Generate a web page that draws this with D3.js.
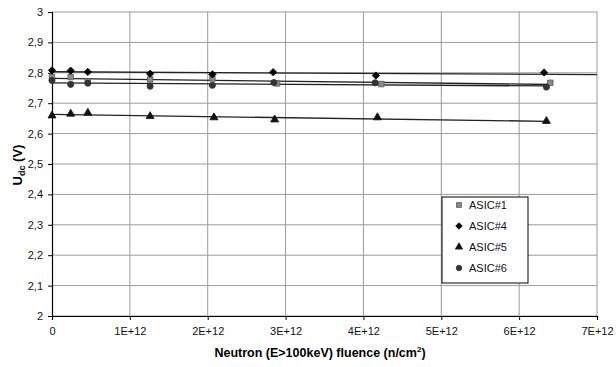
<!DOCTYPE html>
<html>
<head>
<meta charset="utf-8">
<script src="https://cdnjs.cloudflare.com/ajax/libs/d3/7.8.5/d3.min.js"></script>
<style>
    body { margin: 0; background: #fff; }
    svg text { font-family: "Liberation Sans", Arial, sans-serif; }
</style>
</head>
<body>
<svg id="chart" width="616" height="367"></svg>
<script>
// fluence values (n/cm2) and Udc readings per chip
var asic1X = [0, 0.24e12, 0.46e12, 1.26e12, 2.06e12, 2.89e12, 4.23e12, 6.40e12];
var asic1Y = [2.786, 2.786, 2.772, 2.778, 2.781, 2.765, 2.763, 2.767];

var asic4X = [0, 0.24e12, 0.46e12, 1.26e12, 2.06e12, 2.84e12, 4.16e12, 6.32e12];
var asic4Y = [2.808, 2.807, 2.803, 2.797, 2.795, 2.802, 2.791, 2.801];

var asic5X = [0, 0.24e12, 0.46e12, 1.26e12, 2.08e12, 2.86e12, 4.18e12, 6.35e12];
var asic5Y = [2.659, 2.665, 2.668, 2.657, 2.653, 2.646, 2.653, 2.641];

var asic6X = [0, 0.24e12, 0.46e12, 1.26e12, 2.06e12, 2.85e12, 4.15e12, 6.35e12];
var asic6Y = [2.775, 2.762, 2.766, 2.756, 2.759, 2.768, 2.767, 2.753];

var seriesNames = ["ASIC#1", "ASIC#4", "ASIC#5", "ASIC#6"];
var xTicks = [0, 1e12, 2e12, 3e12, 4e12, 5e12, 6e12, 7e12];
var yTicks = [2, 2.1, 2.2, 2.3, 2.4, 2.5, 2.6, 2.7, 2.8, 2.9, 3];

var svg = d3.select("#chart");
var margin = { top: 12, right: 19, bottom: 51, left: 52 };
var width = 616, height = 367;

var xScale = d3.scaleLinear().domain([0, 7e12]).range([margin.left, width - margin.right]);
var yScale = d3.scaleLinear().domain([2, 3]).range([height - margin.bottom, margin.top]);

// grid
svg.append("g").selectAll("line.h").data(yTicks).enter().append("line")
    .attr("x1", xScale(0)).attr("x2", xScale(7e12))
    .attr("y1", function (d) { return yScale(d); })
    .attr("y2", function (d) { return yScale(d); })
    .attr("stroke", "#9a9a9a").attr("stroke-width", 1);

svg.append("g").selectAll("line.v").data(xTicks.slice(1)).enter().append("line")
    .attr("y1", yScale(2)).attr("y2", yScale(3))
    .attr("x1", function (d) { return xScale(d); })
    .attr("x2", function (d) { return xScale(d); })
    .attr("stroke", "#9a9a9a").attr("stroke-width", 1);

// axes
var fmtY = function (d) { return d === 2 || d === 3 ? String(d) : d.toFixed(1).replace(".", ","); };
var fmtX = function (d) { return d === 0 ? "0" : (d / 1e12) + "E+12"; };

var yAxis = svg.append("g")
    .attr("transform", "translate(" + xScale(0) + ",0)")
    .call(d3.axisLeft(yScale).tickValues(yTicks).tickFormat(fmtY).tickSize(4).tickPadding(5));

var xAxis = svg.append("g")
    .attr("transform", "translate(0," + yScale(2) + ")")
    .call(d3.axisBottom(xScale).tickValues(xTicks).tickFormat(fmtX).tickSize(4).tickPadding(7));

[yAxis, xAxis].forEach(function (a)
{
    a.select(".domain").attr("stroke", "#000").attr("stroke-width", 1.2);
    a.selectAll(".tick line").attr("stroke", "#000");
    a.selectAll(".tick text").attr("fill", "#111").style("font-size", "11px");
});

// trend lines (least squares)
function fit(xs, ys)
{
    var mx = d3.mean(xs), my = d3.mean(ys);
    var num = d3.sum(xs, function (x, i) { return (x - mx) * (ys[i] - my); });
    var den = d3.sum(xs, function (x) { return (x - mx) * (x - mx); });
    var b = num / den;
    return { a: my - b * mx, b: b };
}

var series = [
    { name: seriesNames[0], xs: asic1X, ys: asic1Y, end: d3.max(asic1X), shape: d3.symbolSquare, size: 30, fill: "#8c8c8c", stroke: "#555" },
    { name: seriesNames[1], xs: asic4X, ys: asic4Y, end: 7e12, shape: d3.symbolDiamond2, size: 34, fill: "#000", stroke: "#000" },
    { name: seriesNames[2], xs: asic5X, ys: asic5Y, end: d3.max(asic5X), shape: d3.symbolTriangle, size: 28, fill: "#111", stroke: "#111" },
    { name: seriesNames[3], xs: asic6X, ys: asic6Y, end: d3.max(asic6X), shape: d3.symbolCircle, size: 30, fill: "#333", stroke: "#333" }
];

var line = d3.line()
    .x(function (d) { return xScale(d[0]); })
    .y(function (d) { return yScale(d[1]); });

series.forEach(function (s)
{
    var f = fit(s.xs, s.ys);
    svg.append("path")
        .attr("fill", "none")
        .attr("stroke", "#222")
        .attr("stroke-width", 1.3)
        .attr("d", line([[0, f.a], [s.end, f.a + f.b * s.end]]));
});

series.forEach(function (s)
{
    var sym = d3.symbol().type(s.shape).size(s.size);
    svg.append("g").selectAll("path").data(s.xs).enter().append("path")
        .attr("d", sym)
        .attr("transform", function (d, i) { return "translate(" + xScale(d) + "," + yScale(s.ys[i]) + ")"; })
        .attr("fill", s.fill)
        .attr("stroke", s.stroke)
        .attr("stroke-width", 0.8);
});

// legend
var legend = svg.append("g").attr("transform", "translate(442,197)");
legend.append("rect")
    .attr("width", 86).attr("height", 86)
    .attr("fill", "#fff").attr("stroke", "#000").attr("stroke-width", 1);

series.forEach(function (s, i)
{
    var y = 8 + i * 21;
    legend.append("path")
        .attr("d", d3.symbol().type(s.shape).size(s.size * 0.8))
        .attr("transform", "translate(17," + y + ")")
        .attr("fill", s.fill).attr("stroke", s.stroke).attr("stroke-width", 0.8);
    legend.append("text")
        .attr("x", 27).attr("y", y + 4)
        .style("font-size", "11px")
        .attr("fill", "#111")
        .text(s.name);
});

// axis titles
svg.append("text")
    .attr("x", 320).attr("y", 357)
    .attr("text-anchor", "middle")
    .style("font-size", "12.5px").style("font-weight", "bold")
    .html('Neutron (E&gt;100keV) fluence (n/cm<tspan dy="-5" style="font-size:8px">2</tspan><tspan dy="5">)</tspan>');

svg.append("text")
    .attr("transform", "translate(22,165) rotate(-90)")
    .attr("text-anchor", "middle")
    .style("font-size", "13px").style("font-weight", "bold")
    .html('U<tspan dy="3" style="font-size:9px">dc</tspan><tspan dy="-3"> (V)</tspan>');
</script>
</body>
</html>
